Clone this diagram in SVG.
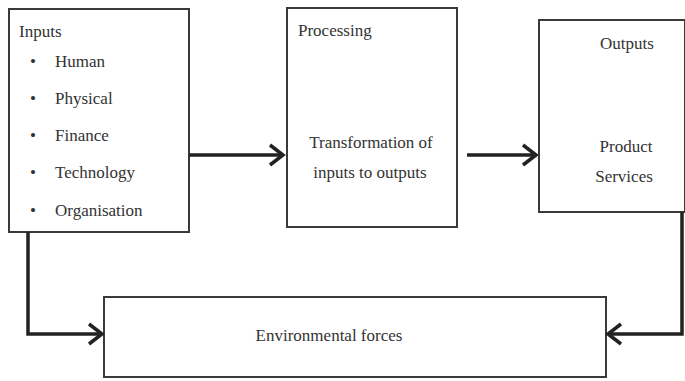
<svg xmlns="http://www.w3.org/2000/svg" width="685" height="381" viewBox="0 0 685 381">
<style>
.box{fill:#fff;stroke:#3a3a3a;stroke-width:2}
.t{font-size:17px;fill:#333}
.c{text-anchor:middle}
.con{fill:none;stroke:#222;stroke-width:3.5}
.head{fill:none;stroke:#222;stroke-width:3.5;stroke-linejoin:miter}
</style>
<rect width="685" height="381" fill="#fff"/>
<g font-family="Liberation Serif, Tinos, DejaVu Serif, serif">
<g id="inputs">
<rect class="box" x="9" y="9" width="180" height="223"/>
<text class="t" x="19" y="37">Inputs</text>
<text class="t" x="30" y="67">•</text><text class="t" x="55" y="67">Human</text>
<text class="t" x="30" y="104">•</text><text class="t" x="55" y="104">Physical</text>
<text class="t" x="30" y="141">•</text><text class="t" x="55" y="141">Finance</text>
<text class="t" x="30" y="178">•</text><text class="t" x="55" y="178">Technology</text>
<text class="t" x="30" y="216">•</text><text class="t" x="55" y="216">Organisation</text>
</g>
<g id="processing">
<rect class="box" x="287" y="8" width="170" height="219"/>
<text class="t" x="298" y="36">Processing</text>
<text class="t c" x="371" y="148">Transformation of</text>
<text class="t c" x="370" y="178">inputs to outputs</text>
</g>
<g id="outputs">
<rect class="box" x="539" y="20" width="146" height="192"/>
<text class="t c" x="627" y="49">Outputs</text>
<text class="t c" x="626" y="152">Product</text>
<text class="t c" x="624" y="182">Services</text>
</g>
<g id="environment">
<rect class="box" x="104" y="297" width="502" height="80"/>
<text class="t c" x="329" y="341">Environmental forces</text>
</g>
</g>
<g id="connectors">
<path class="con" d="M189 155 H281"/>
<path class="head" d="M270 145 L283 155 L270 165"/>
<path class="con" d="M467 155 H534"/>
<path class="head" d="M523 145 L536 155 L523 165"/>
<path class="con" d="M28 232 V334 H100"/>
<path class="head" d="M89 324 L102 334 L89 344"/>
<path class="con" d="M682 212 V334 H610"/>
<path class="head" d="M621 324 L608 334 L621 344"/>
</g>
</svg>
